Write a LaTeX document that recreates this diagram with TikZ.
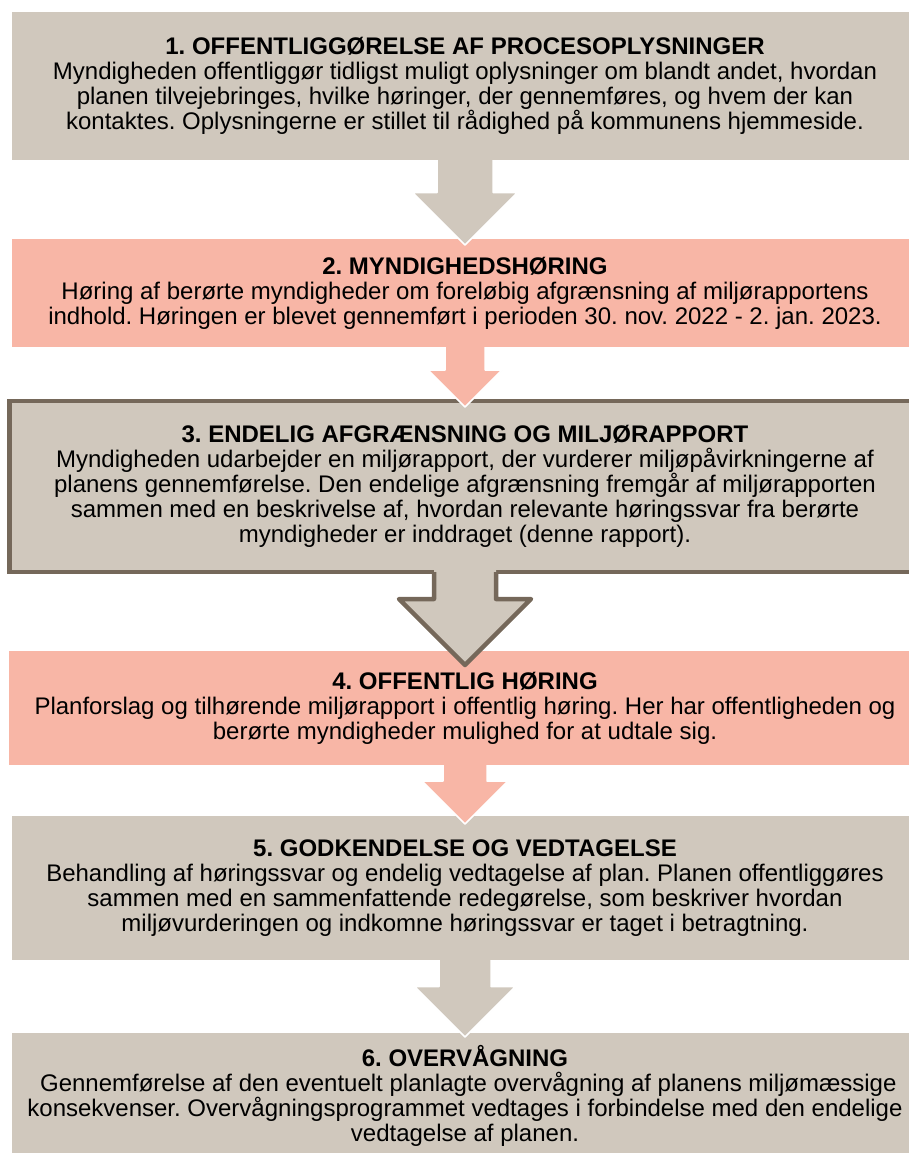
\documentclass[tikz,border=0pt]{standalone}
\usepackage{fontspec}
\setmainfont{Liberation Sans}
\usetikzlibrary{calc}

\definecolor{StageGrey}{RGB}{208,200,189}
\definecolor{StageRose}{RGB}{248,182,166}
\definecolor{StageBrown}{RGB}{117,104,90}

\begin{document}
\frenchspacing
\begin{tikzpicture}
  [x=1pt, y=-1pt,
   stage/.style={inner sep=0pt, outer sep=0pt, align=center,
                 minimum width=906pt, font={\fontsize{24pt}{25pt}\selectfont}},
   grey stage/.style={stage, fill=StageGrey},
   rose stage/.style={stage, fill=StageRose},
   framed stage/.style={grey stage, draw=StageBrown, line width=4.5pt, minimum width=911pt}]

  \useasboundingbox (0,0) rectangle (908,1153);

  \node [grey stage, minimum height=148pt] (publish) at (465,86)
    {\textbf{1. OFFENTLIGGØRELSE AF PROCESOPLYSNINGER}\\
     Myndigheden offentliggør tidligst muligt oplysninger om blandt andet, hvordan\\
     planen tilvejebringes, hvilke høringer, der gennemføres, og hvem der kan\\
     kontaktes. Oplysningerne er stillet til rådighed på kommunens hjemmeside.};

  \node [rose stage, minimum height=108pt] (authority) at (465,293)
    {\textbf{2. MYNDIGHEDSHØRING}\\
     Høring af berørte myndigheder om foreløbig afgrænsning af miljørapportens\\
     indhold. Høringen er blevet gennemført i perioden 30. nov. 2022 - 2. jan. 2023.};

  \node [framed stage, minimum height=171pt] (scoping) at (465,486.5)
    {\textbf{3. ENDELIG AFGRÆNSNING OG MILJØRAPPORT}\\
     Myndigheden udarbejder en miljørapport, der vurderer miljøpåvirkningerne af\\
     planens gennemførelse. Den endelige afgrænsning fremgår af miljørapporten\\
     sammen med en beskrivelse af, hvordan relevante høringssvar fra berørte\\
     myndigheder er inddraget (denne rapport).};

  \node [rose stage, minimum width=912pt, minimum height=114pt] (public) at (465,708)
    {\textbf{4. OFFENTLIG HØRING}\\
     Planforslag og tilhørende miljørapport i offentlig høring. Her har offentligheden og\\
     berørte myndigheder mulighed for at udtale sig.};

  \node [grey stage, minimum height=144pt] (adopt) at (465,888)
    {\textbf{5. GODKENDELSE OG VEDTAGELSE}\\
     Behandling af høringssvar og endelig vedtagelse af plan. Planen offentliggøres\\
     sammen med en sammenfattende redegørelse, som beskriver hvordan\\
     miljøvurderingen og indkomne høringssvar er taget i betragtning.};

  \node [grey stage, minimum height=125pt] (monitor) at (465,1095.5)
    {\textbf{6. OVERVÅGNING}\\
     \ Gennemførelse af den eventuelt planlagte overvågning af planens miljømæssige\\
     konsekvenser. Overvågningsprogrammet vedtages i forbindelse med den endelige\\
     vedtagelse af planen.};

  \foreach \From/\To/\Shaft/\Head/\Tip/\Fill/\Line/\Width in
    {publish/authority/28pt/52.5pt/6pt/StageGrey/white/1.5pt,
     authority/scoping/20pt/37pt/6pt/StageRose/white/1.5pt,
     scoping/public/31pt/66pt/14pt/StageGrey/StageBrown/4.5pt,
     public/adopt/22pt/43pt/8pt/StageRose/white/1.5pt,
     adopt/monitor/26pt/50.5pt/4pt/StageGrey/white/1.5pt}
  {
    \fill [fill=\Fill] let \p1 = (\From.south), \p2 = (\To.north) in
      (\x1-\Shaft, \y1+4pt) -- (\x1-\Shaft, \y2-\Tip+\Head) -- (\x1-\Head, \y2-\Tip+\Head)
      -- (\x1, \y2-\Tip) -- (\x1+\Head, \y2-\Tip+\Head) -- (\x1+\Shaft, \y2-\Tip+\Head)
      -- (\x1+\Shaft, \y1+4pt) -- cycle;
    \draw [draw=\Line, line width=\Width, line join=round] let \p1 = (\From.south), \p2 = (\To.north) in
      (\x1-\Shaft, \y1) -- (\x1-\Shaft, \y2-\Tip+\Head) -- (\x1-\Head, \y2-\Tip+\Head)
      -- (\x1, \y2-\Tip) -- (\x1+\Head, \y2-\Tip+\Head) -- (\x1+\Shaft, \y2-\Tip+\Head)
      -- (\x1+\Shaft, \y1);
  }
\end{tikzpicture}
\end{document}
